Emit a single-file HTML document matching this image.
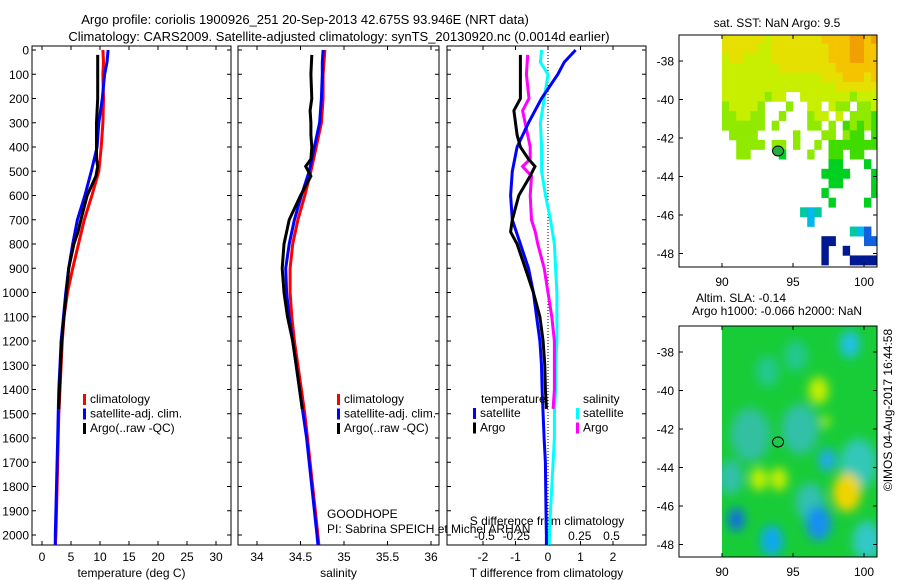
<!DOCTYPE html>
<html><head><meta charset="utf-8"><style>
body{margin:0;background:#fff;}
svg{display:block;font-family:"Liberation Sans",sans-serif;}
</style></head><body>
<svg id="c" width="900" height="580" viewBox="0 0 900 580"></svg>
<script>
// ---------- data ----------
const depthsT = [0,50,100,200,300,400,500,600,700,800,900,1000,1100,1200,1300,1400,1500,1600,1700,1800,1900,2000,2040];
const tempClim = [10.5,10.6,10.5,10.6,10.5,10.2,9.8,8.6,7.3,6.3,5.3,4.4,3.8,3.5,3.3,3.1,2.9,2.8,2.7,2.6,2.5,2.4,2.3];
const tempSat  = [11.4,11.2,10.8,10.4,9.8,9.5,8.5,7.4,6.1,5.3,4.6,4.1,3.7,3.3,3.1,2.9,2.8,2.7,2.6,2.5,2.4,2.3,2.3];
const depthsArgo = [20,100,200,250,300,350,400,450,480,520,600,700,750,800,900,1000,1100,1200,1300,1400,1480];
const tempArgo = [9.6,9.6,9.6,9.5,9.4,9.4,9.4,9.4,9.6,9.3,7.8,6.7,6.2,5.5,4.6,4.2,3.8,3.4,3.2,3.0,2.9];
const salClim = [34.78,34.77,34.76,34.76,34.74,34.68,34.62,34.55,34.47,34.41,34.38,34.38,34.40,34.43,34.47,34.51,34.55,34.58,34.61,34.64,34.67,34.70,34.71];
const salSat  = [34.76,34.75,34.75,34.74,34.72,34.66,34.60,34.51,34.43,34.37,34.33,34.34,34.37,34.41,34.45,34.49,34.53,34.57,34.60,34.63,34.66,34.69,34.70];
const salArgo = [34.63,34.62,34.63,34.61,34.62,34.62,34.63,34.62,34.56,34.62,34.50,34.37,34.34,34.31,34.29,34.31,34.35,34.41,34.45,34.49,34.52];
const dTsat = [0.85,0.5,0.3,-0.2,-0.6,-0.95,-1.1,-1.15,-1.1,-0.85,-0.6,-0.45,-0.35,-0.25,-0.2,-0.18,-0.15,-0.12,-0.08,-0.07,-0.06,-0.05,-0.05];
const dSsat = [-0.05,-0.06,0.0,-0.03,-0.06,-0.05,-0.05,-0.02,0.02,0.05,0.06,0.07,0.07,0.07,0.06,0.06,0.05,0.05,0.04,0.03,0.02,0.01,0.01];
const dTargo = [-0.85,-0.85,-0.85,-1.05,-1.0,-0.95,-0.85,-0.6,-0.4,-0.55,-0.9,-1.1,-1.15,-0.95,-0.7,-0.45,-0.25,-0.15,-0.1,-0.08,-0.05];
const dSargo = [-0.16,-0.17,-0.15,-0.2,-0.18,-0.16,-0.14,-0.14,-0.2,-0.13,-0.14,-0.13,-0.1,-0.08,-0.03,0.0,0.03,0.05,0.05,0.05,0.04];
const depthTicks = [0,100,200,300,400,500,600,700,800,900,1000,1100,1200,1300,1400,1500,1600,1700,1800,1900,2000];
const tempTicks = [0,5,10,15,20,25,30];
const salTicks = [34,34.5,35,35.5,36];
const salTickLabels = ["34","34.5","35","35.5","36"];
const dTTicks = [-2,-1,0,1,2];
const dSTicks = [-0.5,-0.25,0,0.25,0.5];
const dSTickLabels = ["-0.5","-0.25","0","0.25","0.5"];
const lonTicks = [90,95,100];
const latTicks = [-38,-40,-42,-44,-46,-48];
// SST grid: rows from lat -36.6 downward at 0.5 deg, cols lon 90..101 at 0.5 deg
const sstRows = [
"YYYYYYyYYYYYYYooooOOoO",
"YYYYYyyYYYYYYYYoooOOoo",
"yYYyyyyYYYYYYYYoooOOoo",
"yyyyyyyyYYYYYYYYoooooo",
"yyyyyyyyyyyyyyYYYoooYo",
"yyyyyyyyyyyyyyyyYYYYYY",
"yyyyyyLyy..yyyyyyyLyyy",
"LyyyyL...L..yy.yLL.LLy",
"LLyyLL..L...Lyy.y.LLLG",
"LLLLLL.L....LL.L.GLGLG",
".LLLL.....L...LL.LGG.G",
"..LLLL.LL.L..L.GGGGGGG",
"..LL....g...L..GG.GG..",
"...............gg...g.",
"..............gggg...g",
"...............gg....g",
"..............g......g",
"...............g....g.",
"...........cbc........",
"............b.........",
"..................cbB.",
"..............NN....BB",
"..............N..N....",
"..............N...NNNN"];
const sstColors = {O:"#f0a000",o:"#f5c400",Y:"#e6e000",y:"#c8ee00",L:"#90ea00",G:"#40dc00",g:"#00d020",c:"#00c8a0",b:"#00b8f0",B:"#1060e0",N:"#001890"};
// SLA blobs: lon, lat, radius(deg), color
const slaBlobLon = [92.0,95.5,99.6,96.2,90.6,93.2,95.2,99.0,96.8,97.4,98.8,92.6,94.0,91.0,93.5,96.8,97.3,100.2];
const slaBlobLat = [-42.3,-42.0,-43.8,-45.8,-44.5,-39.0,-38.2,-37.6,-40.0,-43.6,-45.3,-44.6,-44.6,-46.7,-47.8,-46.9,-41.6,-47.8];
const slaBlobR   = [1.4,1.3,1.3,1.0,0.9,0.8,0.8,0.7,0.7,0.6,1.0,0.6,0.6,0.6,0.8,0.9,0.3,1.0];
const slaBlobC   = ["#30c0a0","#30c0a8","#30c8b8","#30c0b0","#30c0a8","#20c890","#20c890","#20c0e8","#c8ee00","#20a8f0","#f0d400","#c8f000","#c8f000","#1070e0","#10a8f0","#1890f0","#c0f000","#30c8c8"];

// ---------- helpers ----------
const NS="http://www.w3.org/2000/svg";
const svg=document.getElementById('c');
function mk(tag,attrs,parent){const e=document.createElementNS(NS,tag);for(const k in attrs)e.setAttribute(k,attrs[k]);(parent||svg).appendChild(e);return e;}
function txt(x,y,s,anchor,size,parent,rot){const e=mk('text',{x:x,y:y,'text-anchor':anchor||'middle','font-size':size||12,fill:'#000'},parent);if(rot)e.setAttribute('transform',rot);e.textContent=s;return e;}

const Y0=50, YS=(535-50)/2000, TOP=46, BOT=545;
const yD=d=>Y0+d*YS;

function panel(name,x0,x1,xf,ticks,labels,xlabel){
  const g=mk('g',{});
  
  
  mk('rect',{x:x0,y:TOP,width:x1-x0,height:BOT-TOP,fill:'none',stroke:'#000','stroke-width':1},g);
  depthTicks.forEach(d=>{mk('line',{x1:x0,x2:x0+4,y1:yD(d),y2:yD(d),stroke:'#000'},g);mk('line',{x1:x1,x2:x1-4,y1:yD(d),y2:yD(d),stroke:'#000'},g);});
  ticks.forEach((t,i)=>{const x=xf(t);mk('line',{x1:x,x2:x,y1:BOT,y2:BOT-4,stroke:'#000'},g);mk('line',{x1:x,x2:x,y1:TOP,y2:TOP+4,stroke:'#000'},g);if(labels)txt(x,561,labels[i],'middle',12,g);});
  if(xlabel)txt((x0+x1)/2,577,xlabel,'middle',12,g);
  return g;
}
function profile(name,g,xs,ds,xf,color){
  const pts=xs.map((v,i)=>{const y=yD(ds[i]);return xf(v).toFixed(1)+','+y.toFixed(1);}).join(' ');
  const p=mk('polyline',{points:pts,fill:'none',stroke:color,'stroke-width':3},g);
  
  
}
function legend(g,x,y,items){
  items.forEach((it,i)=>{
    mk('rect',{x:x,y:y+i*14.5-9,width:3,height:11,fill:it[1]},g);
    const t=txt(x+7,y+i*14.5,it[0],'start',12,g);
    
    
  });
}

// titles
const t1=txt(305,24,"Argo profile: coriolis 1900926_251 20-Sep-2013 42.675S 93.946E (NRT data)",'middle',13);


const t2=txt(339,41,"Climatology: CARS2009. Satellite-adjusted climatology: synTS_20130920.nc (0.0014d earlier)",'middle',13);



// y labels
depthTicks.forEach(d=>{const t=txt(29,yD(d)+4.5,String(d),'end',12);});

// panel 1 temperature
const xT=v=>42+v*5.8;
const g1=panel('temperature-panel',32,231,xT,tempTicks,tempTicks.map(String),'temperature (deg C)');
profile('temp-climatology-line',g1,tempClim,depthsT,xT,'#ff0000');
profile('temp-satellite-line',g1,tempSat,depthsT,xT,'#0000ff');
profile('temp-argo-line',g1,tempArgo,depthsArgo,xT,'#000000');
legend(g1,83,403,[["climatology","#ff0000","climatology"],["satellite-adj. clim.","#0000ff","satellite"],["Argo(..raw -QC)","#000","argo"]]);

// panel 2 salinity
const xS=v=>257+(v-34)*87;
const g2=panel('salinity-panel',238,439,xS,salTicks,salTickLabels,'salinity');
profile('sal-climatology-line',g2,salClim,depthsT,xS,'#ff0000');
profile('sal-satellite-line',g2,salSat,depthsT,xS,'#0000ff');
profile('sal-argo-line',g2,salArgo,depthsArgo,xS,'#000000');
legend(g2,337,403,[["climatology","#ff0000","climatology"],["satellite-adj. clim.","#0000ff","satellite"],["Argo(..raw -QC)","#000","argo"]]);
txt(327,518,"GOODHOPE",'start',12,g2);
txt(327,533,"PI: Sabrina SPEICH et Michel ARHAN",'start',12,g2);

// panel 3 differences
const xdT=v=>548+v*32.5;
const xdS=v=>548+v*127;
const g3=panel('difference-panel',447,646,xdT,dTTicks,dTTicks.map(String),'T difference from climatology');
mk('line',{x1:548,x2:548,y1:TOP,y2:BOT,stroke:'#000','stroke-dasharray':'1,2'},g3);
dSTicks.forEach((t,i)=>txt(xdS(t),540,dSTickLabels[i],'middle',12,g3));
txt(547,525,"S difference from climatology",'middle',12,g3);
profile('dS-satellite-line',g3,dSsat,depthsT,xdS,'#00ffff');
profile('dS-argo-line',g3,dSargo,depthsArgo,xdS,'#ff00ff');
profile('dT-satellite-line',g3,dTsat,depthsT,xdT,'#0000ff');
profile('dT-argo-line',g3,dTargo,depthsArgo,xdT,'#000000');
txt(481,403,"temperature",'start',12,g3);
txt(583,403,"salinity",'start',12,g3);
legend(g3,473,417,[["satellite","#0000ff","dT-satellite"],["Argo","#000","dT-argo"]]);
legend(g3,576,417,[["satellite","#00ffff","dS-satellite"],["Argo","#ff00ff","dS-argo"]]);

// ---------- maps ----------
function mapAxes(name,top,bot,y38,titleLines){
  const g=mk('g',{});
  
  
  const X0=679,X1=877;
  const lx=v=>722+(v-90)*14.2;
  const ly=v=>y38+(-38-v)*19.25;
  return {g,lx,ly,X0,X1,top,bot,finish:function(){
    mk('rect',{x:X0,y:top,width:X1-X0,height:bot-top,fill:'none',stroke:'#000'},g);
    lonTicks.forEach(t=>{mk('line',{x1:lx(t),x2:lx(t),y1:bot,y2:bot-4,stroke:'#000'},g);mk('line',{x1:lx(t),x2:lx(t),y1:top,y2:top+4,stroke:'#000'},g);txt(lx(t),bot+19,String(t),'middle',12,g);});
    latTicks.forEach(t=>{mk('line',{x1:X0,x2:X0+4,y1:ly(t),y2:ly(t),stroke:'#000'},g);mk('line',{x1:X1,x2:X1-4,y1:ly(t),y2:ly(t),stroke:'#000'},g);txt(X0-5,ly(t)+4.5,String(t),'end',12,g);});
    titleLines.forEach(l=>txt(l[1],l[2],l[0],'middle',12,g));
  }};
}
// SST map
const m1=mapAxes('sst-map',35,267,61,[["sat. SST: NaN Argo: 9.5",777,27]]);
const clip1=mk('clipPath',{id:'cl1'});mk('rect',{x:679,y:35,width:198,height:232},clip1);
const cells=mk('g',{'clip-path':'url(#cl1)'},m1.g);
sstRows.forEach((row,r)=>{const latTop=-36.6-0.5*r;[...row].forEach((ch,c)=>{if(ch==='.')return;const lon=90+0.5*c;
  const x=m1.lx(lon),y=m1.ly(latTop);const rc=mk('rect',{x:x,y:y,width:m1.lx(lon+0.5)-x+0.3,height:m1.ly(latTop-0.5)-y+0.3,fill:sstColors[ch]},cells);
  
  });});
const a1=mk('ellipse',{cx:m1.lx(93.946),cy:m1.ly(-42.675),rx:5.5,ry:5,fill:'#20b040',stroke:'#000'},m1.g);


m1.finish();

// SLA map
const m2=mapAxes('sla-map',326,557,352,[["Altim. SLA: -0.14",741,302],["Argo h1000: -0.066 h2000: NaN",777,315]]);
const defs=mk('defs',{});
const clip2=mk('clipPath',{id:'cl2'},defs);mk('rect',{x:m2.lx(90),y:326,width:877-m2.lx(90),height:231},clip2);
const f=mk('filter',{id:'bl',x:'-50%',y:'-50%',width:'200%',height:'200%'},defs);mk('feGaussianBlur',{stdDeviation:5},f);
const sg=mk('g',{'clip-path':'url(#cl2)'},m2.g);
mk('rect',{x:m2.lx(90),y:326,width:877-m2.lx(90),height:231,fill:'#18cc38'},sg);
const bg=mk('g',{filter:'url(#bl)'},sg);
slaBlobLon.forEach((lon,i)=>{const e=mk('ellipse',{cx:m2.lx(lon),cy:m2.ly(slaBlobLat[i]),rx:slaBlobR[i]*14.2,ry:slaBlobR[i]*19.25,fill:slaBlobC[i]},bg);
  
  });
const a2=mk('ellipse',{cx:m2.lx(93.946),cy:m2.ly(-42.675),rx:5.5,ry:5,fill:'none',stroke:'#000'},m2.g);


m2.finish();

const ts=txt(892,410,"©IMOS 04-Aug-2017 16:44:58",'middle',12,null,'rotate(-90 892 410)');


</script>
</body></html>
